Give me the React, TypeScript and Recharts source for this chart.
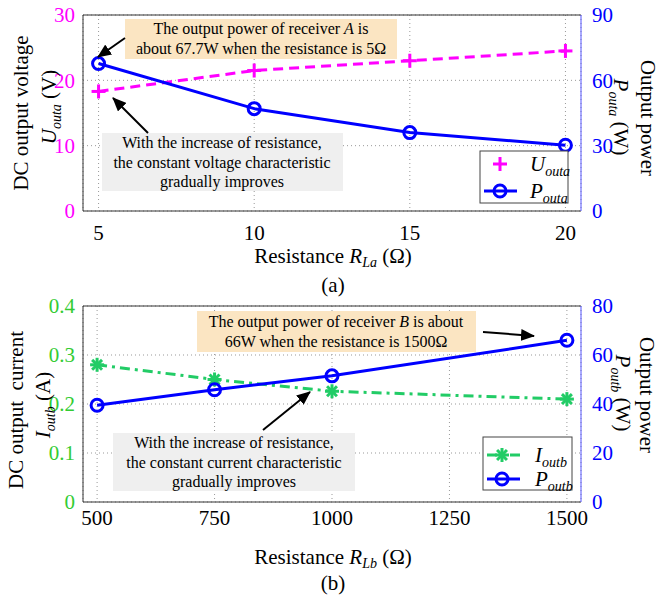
import React from 'react';
import { LineChart, Line, XAxis, YAxis, CartesianGrid, ReferenceLine } from 'recharts';

const FONT = 'Liberation Serif';

// ---- Chart (a) data ----
const resistanceA = [5, 10, 15, 20];
const voltageA = [18.3, 21.5, 23.0, 24.5];
const powerA = [67.7, 47.0, 36.0, 30.2];
const xTicksA = [5, 10, 15, 20];
const leftTicksA = [0, 10, 20, 30];
const rightTicksA = [0, 30, 60, 90];

// ---- Chart (b) data ----
const resistanceB = [500, 750, 1000, 1500];
const currentB = [0.28, 0.25, 0.226, 0.21];
const powerB = [39.5, 45.8, 51.5, 66.0];
const xTicksB = [500, 750, 1000, 1250, 1500];
const leftTicksB = [0, 0.1, 0.2, 0.3, 0.4];
const rightTicksB = [0, 20, 40, 60, 80];

const MAGENTA = '#ff00ff';
const BLUE = '#0000ff';
const GREEN_LINE = '#22cc66';
const GREEN_TICK = '#33cc33';

const dataA = resistanceA.map((r, i) => ({ r, u: voltageA[i], p: powerA[i] }));
const dataB = resistanceB.map((r, i) => ({ r, c: currentB[i], p: powerB[i] }));

const PlusMark = ({ cx, cy }: { cx: number; cy: number }) => (
  <g>
    <line x1={cx - 7} y1={cy} x2={cx + 7} y2={cy} stroke={MAGENTA} strokeWidth={3} />
    <line x1={cx} y1={cy - 7} x2={cx} y2={cy + 7} stroke={MAGENTA} strokeWidth={3} />
  </g>
);
const CircleMark = ({ cx, cy }: { cx: number; cy: number }) => (
  <circle cx={cx} cy={cy} r={6} fill="none" stroke={BLUE} strokeWidth={3} />
);
const StarMark = ({ cx, cy }: { cx: number; cy: number }) => {
  const r = 7;
  const d = r * 0.707;
  return (
    <g stroke={GREEN_LINE} strokeWidth={3}>
      <line x1={cx - r} y1={cy} x2={cx + r} y2={cy} />
      <line x1={cx} y1={cy - r} x2={cx} y2={cy + r} />
      <line x1={cx - d} y1={cy - d} x2={cx + d} y2={cy + d} />
      <line x1={cx - d} y1={cy + d} x2={cx + d} y2={cy - d} />
    </g>
  );
};

const tickStyle = (fill: string) => ({ fill, fontSize: 21, fontFamily: FONT });

const Arrow = ({ x1, y1, x2, y2 }: { x1: number; y1: number; x2: number; y2: number }) => (
  <line x1={x1} y1={y1} x2={x2} y2={y2} stroke="#000" strokeWidth={2} markerEnd="url(#arrowHead)" />
);

const T = (props: any) => <text fontFamily={FONT} fill="#000" {...props} />;

const Overlay = () => (
  <svg width={660} height={600} style={{ position: 'absolute', left: 0, top: 0, pointerEvents: 'none' }}>
    <defs>
      <marker id="arrowHead" markerUnits="userSpaceOnUse" markerWidth={14} markerHeight={12} refX={13} refY={6} orient="auto">
        <path d="M0,0 L14,6 L0,12 Z" fill="#000" />
      </marker>
    </defs>

    {/* ===== Chart (a) texts ===== */}
    <T x={28} y={113} transform="rotate(-90 28 113)" textAnchor="middle" fontSize={21}>DC output voltage</T>
    <T x={56} y={107} transform="rotate(-90 56 107)" textAnchor="middle" fontSize={21}>
      <tspan fontStyle="italic">U</tspan>
      <tspan fontStyle="italic" fontSize={14} dy={5}>outa</tspan>
      <tspan dy={-5}> (V)</tspan>
    </T>
    <T x={641} y={118} transform="rotate(90 641 118)" textAnchor="middle" fontSize={21}>Output power</T>
    <T x={614} y={117} transform="rotate(90 614 117)" textAnchor="middle" fontSize={21}>
      <tspan fontStyle="italic">P</tspan>
      <tspan fontStyle="italic" fontSize={14} dy={5}>outa</tspan>
      <tspan dy={-5}> (W)</tspan>
    </T>
    <T x={333} y={263} textAnchor="middle" fontSize={21}>
      <tspan>Resistance </tspan>
      <tspan fontStyle="italic">R</tspan>
      <tspan fontStyle="italic" fontSize={14} dy={4}>La</tspan>
      <tspan dy={-4}> (Ω)</tspan>
    </T>
    <T x={333} y={292} textAnchor="middle" fontSize={21}>(a)</T>

    <rect x={125} y={19} width={272} height={40} fill="#fbe5c2" />
    <T x={261} y={34} textAnchor="middle" fontSize={16}>
      The output power of receiver <tspan fontStyle="italic">A</tspan> is
    </T>
    <T x={261} y={54} textAnchor="middle" fontSize={16}>about 67.7W when the resistance is 5Ω</T>

    <rect x={102} y={133} width={241} height={58} fill="#efefef" />
    <T x={222} y={148} textAnchor="middle" fontSize={16}>With the increase of resistance,</T>
    <T x={222} y={168} textAnchor="middle" fontSize={16}>the constant voltage characteristic</T>
    <T x={222} y={187} textAnchor="middle" fontSize={16}>gradually improves</T>

    <Arrow x1={125} y1={38} x2={98} y2={57} />
    <Arrow x1={148} y1={133} x2={113} y2={98} />

    <rect x={480} y={151} width={88} height={52} fill="#fff" stroke="#444" strokeWidth={1} />
    <PlusMark cx={500} cy={164} />
    <line x1={484} y1={191} x2={517} y2={191} stroke={BLUE} strokeWidth={3} />
    <CircleMark cx={500} cy={191} />
    <T x={530} y={171} fontSize={21}>
      <tspan fontStyle="italic">U</tspan>
      <tspan fontStyle="italic" fontSize={14} dy={5}>outa</tspan>
    </T>
    <T x={530} y={198} fontSize={21}>
      <tspan fontStyle="italic">P</tspan>
      <tspan fontStyle="italic" fontSize={14} dy={5}>outa</tspan>
    </T>

    {/* ===== Chart (b) texts ===== */}
    <T x={23} y={410} transform="rotate(-90 23 410)" textAnchor="middle" fontSize={21} style={{ whiteSpace: 'pre' }}>DC output  current</T>
    <T x={50} y={405} transform="rotate(-90 50 405)" textAnchor="middle" fontSize={21}>
      <tspan fontStyle="italic">I</tspan>
      <tspan fontStyle="italic" fontSize={14} dy={5}>outb</tspan>
      <tspan dy={-5}> (A)</tspan>
    </T>
    <T x={640} y={395} transform="rotate(90 640 395)" textAnchor="middle" fontSize={21}>Output power</T>
    <T x={616} y={393} transform="rotate(90 616 393)" textAnchor="middle" fontSize={21}>
      <tspan fontStyle="italic">P</tspan>
      <tspan fontStyle="italic" fontSize={14} dy={5}>outb</tspan>
      <tspan dy={-5}> (W)</tspan>
    </T>
    <T x={333} y={564} textAnchor="middle" fontSize={21}>
      <tspan>Resistance </tspan>
      <tspan fontStyle="italic">R</tspan>
      <tspan fontStyle="italic" fontSize={14} dy={4}>Lb</tspan>
      <tspan dy={-4}> (Ω)</tspan>
    </T>
    <T x={333} y={590} textAnchor="middle" fontSize={21}>(b)</T>

    <rect x={197} y={311} width={279} height={41} fill="#fbe5c2" />
    <T x={336} y={327} textAnchor="middle" fontSize={16}>
      The output power of receiver <tspan fontStyle="italic">B</tspan> is about
    </T>
    <T x={336} y={347} textAnchor="middle" fontSize={16}>66W when the resistance is 1500Ω</T>

    <rect x={113} y={433} width={242} height={58} fill="#efefef" />
    <T x={234} y={448} textAnchor="middle" fontSize={16}>With the increase of resistance,</T>
    <T x={234} y={468} textAnchor="middle" fontSize={16}>the constant current characteristic</T>
    <T x={234} y={487} textAnchor="middle" fontSize={16}>gradually improves</T>

    <Arrow x1={483} y1={332} x2={534} y2={336} />
    <Arrow x1={263} y1={430} x2={310} y2={392} />

    <rect x={483} y={437} width={89} height={53} fill="#fff" stroke="#444" strokeWidth={1} />
    <line x1={487} y1={455} x2={520} y2={455} stroke={GREEN_LINE} strokeWidth={3} strokeDasharray="10 5 3 5" />
    <StarMark cx={502} cy={455} />
    <line x1={487} y1={479} x2={520} y2={479} stroke={BLUE} strokeWidth={3} />
    <CircleMark cx={502} cy={479} />
    <T x={535} y={462} fontSize={21}>
      <tspan fontStyle="italic">I</tspan>
      <tspan fontStyle="italic" fontSize={14} dy={5}>outb</tspan>
    </T>
    <T x={535} y={486} fontSize={21}>
      <tspan fontStyle="italic">P</tspan>
      <tspan fontStyle="italic" fontSize={14} dy={5}>outb</tspan>
    </T>
  </svg>
);

export default function App() {
  return (
    <div style={{ position: 'absolute', left: 0, top: 0, width: 660, height: 600, background: '#fff' }}>
      <div style={{ position: 'absolute', left: 0, top: 0 }}>
        <LineChart width={660} height={290} data={dataA} margin={{ top: 15, right: 0, bottom: 0, left: 0 }}>
          <CartesianGrid yAxisId="l" stroke="#999" strokeDasharray="1 3" />
          <XAxis
            type="number"
            dataKey="r"
            domain={[4.5, 20.5]}
            ticks={xTicksA}
            interval={0}
            height={79}
            tickLine={false}
            tickMargin={8}
            axisLine={{ stroke: '#333' }}
            tick={tickStyle('#000')}
            allowDataOverflow
          />
          <YAxis
            yAxisId="l"
            domain={[0, 30]}
            ticks={leftTicksA}
            interval={0}
            width={83}
            tickLine={false}
            axisLine={{ stroke: '#333' }}
            tick={tickStyle(MAGENTA)}
          />
          <YAxis
            yAxisId="r"
            orientation="right"
            domain={[0, 90]}
            ticks={rightTicksA}
            interval={0}
            width={79}
            tickLine={false}
            tickMargin={5}
            axisLine={{ stroke: '#5555ff' }}
            tick={tickStyle(BLUE)}
          />
          <ReferenceLine yAxisId="l" y={30} stroke="#333" />
          <Line
            yAxisId="l"
            type="linear"
            dataKey="u"
            stroke={MAGENTA}
            strokeWidth={3}
            strokeDasharray="10 6"
            isAnimationActive={false}
            dot={(p: any) => <PlusMark key={`u${p.index}`} cx={p.cx} cy={p.cy} />}
          />
          <Line
            yAxisId="r"
            type="linear"
            dataKey="p"
            stroke={BLUE}
            strokeWidth={3}
            isAnimationActive={false}
            dot={(p: any) => <CircleMark key={`pa${p.index}`} cx={p.cx} cy={p.cy} />}
          />
        </LineChart>
      </div>
      <div style={{ position: 'absolute', left: 0, top: 290 }}>
        <LineChart width={660} height={300} data={dataB} margin={{ top: 16, right: 0, bottom: 0, left: 0 }}>
          <CartesianGrid yAxisId="l" stroke="#999" strokeDasharray="1 3" />
          <XAxis
            type="number"
            dataKey="r"
            domain={[470, 1530]}
            ticks={xTicksB}
            interval={0}
            height={88}
            tickLine={false}
            tickMargin={2}
            axisLine={{ stroke: '#333' }}
            tick={tickStyle('#000')}
            allowDataOverflow
          />
          <YAxis
            yAxisId="l"
            domain={[0, 0.4]}
            ticks={leftTicksB}
            interval={0}
            width={83}
            tickLine={false}
            axisLine={{ stroke: '#333' }}
            tick={tickStyle(GREEN_TICK)}
          />
          <YAxis
            yAxisId="r"
            orientation="right"
            domain={[0, 80]}
            ticks={rightTicksB}
            interval={0}
            width={79}
            tickLine={false}
            tickMargin={5}
            axisLine={{ stroke: '#5555ff' }}
            tick={tickStyle(BLUE)}
          />
          <ReferenceLine yAxisId="l" y={0.4} stroke="#333" />
          <Line
            yAxisId="l"
            type="linear"
            dataKey="c"
            stroke={GREEN_LINE}
            strokeWidth={3}
            strokeDasharray="10 5 3 5"
            isAnimationActive={false}
            dot={(p: any) => <StarMark key={`c${p.index}`} cx={p.cx} cy={p.cy} />}
          />
          <Line
            yAxisId="r"
            type="linear"
            dataKey="p"
            stroke={BLUE}
            strokeWidth={3}
            isAnimationActive={false}
            dot={(p: any) => <CircleMark key={`pb${p.index}`} cx={p.cx} cy={p.cy} />}
          />
        </LineChart>
      </div>
      <Overlay />
    </div>
  );
}
